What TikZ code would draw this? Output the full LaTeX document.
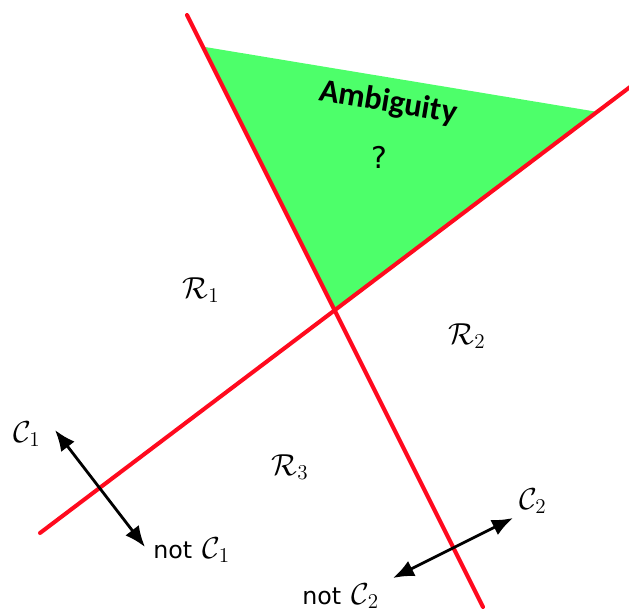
\documentclass[tikz,border=0pt]{standalone}
\usepackage{amsmath,amssymb}
\usepackage{fontspec}
\newfontfamily\calib{Carlito}
\newfontfamily\dvsans{DejaVu Sans}
\usepackage{tikz}
\usetikzlibrary{arrows.meta}
\definecolor{Border}{HTML}{FF0A1E}
\definecolor{Ambig}{HTML}{4DFF6A}
\definecolor{Ink}{HTML}{000000}
\tikzset{
  boundary/.style={draw=Border,line width=2.3pt,line cap=round},
  classArrow/.style={{Latex[length=4.2mm,width=3.4mm]}-{Latex[length=4.2mm,width=3.4mm]},line width=1.6pt,draw=Ink},
  region/.style={font=\fontsize{17.5}{19}\selectfont,inner sep=0pt},
  classLabel/.style={font=\dvsans\fontsize{13.5}{16}\selectfont,inner sep=0pt}
}
\newcommand{\clsym}[1]{\fontsize{16.5}{18}\selectfont$\mathcal{C}_{#1}$}
\begin{document}
\begin{tikzpicture}[x=0.02cm,y=-0.02cm]
  \useasboundingbox (0,0) rectangle (629,613);
  % the two decision boundaries
  \coordinate (b1top) at (187,15);
  \coordinate (b1bot) at (483,607);
  \coordinate (b2left) at (40,533);
  \coordinate (b2right) at (630,87);
  \coordinate (cross) at (335,310);
  \coordinate (amTL) at (205,47);
  \coordinate (amTR) at (598,112);
  \fill[Ambig] (amTL) -- (amTR) -- (cross) -- cycle;
  \draw[boundary] (b1top) -- (b1bot);
  \draw[boundary] (b2left) -- (b2right);
  % ambiguous region
  \node[font=\calib\bfseries\fontsize{18.5}{20}\selectfont,rotate=-9.5] (ambig) at (388,103) {Ambiguity};
  \node[font=\dvsans\fontsize{17}{19}\selectfont] (qmark) at (379,157) {?};
  % regions
  \node[region] (r1) at (201,290) {$\mathcal{R}_1$};
  \node[region] (r2) at (467,336) {$\mathcal{R}_2$};
  \node[region] (r3) at (290,467) {$\mathcal{R}_3$};
  % classes
  \node[classLabel] (c1) at (27,434) {\clsym{1}};
  \node[classLabel,anchor=west] (nc1) at (153,550) {not\hspace{0.45em}\clsym{1}};
  \node[classLabel] (c2) at (533,501) {\clsym{2}};
  \node[classLabel,anchor=west] (nc2) at (302,596) {not\hspace{0.45em}\clsym{2}};
  \coordinate (a1s) at (55,430);
  \coordinate (a1e) at (145,547);
  \coordinate (a2s) at (513,518);
  \coordinate (a2e) at (393,578);
  \draw[classArrow] (a1s) -- (a1e);
  \draw[classArrow] (a2s) -- (a2e);
\end{tikzpicture}
\end{document}
